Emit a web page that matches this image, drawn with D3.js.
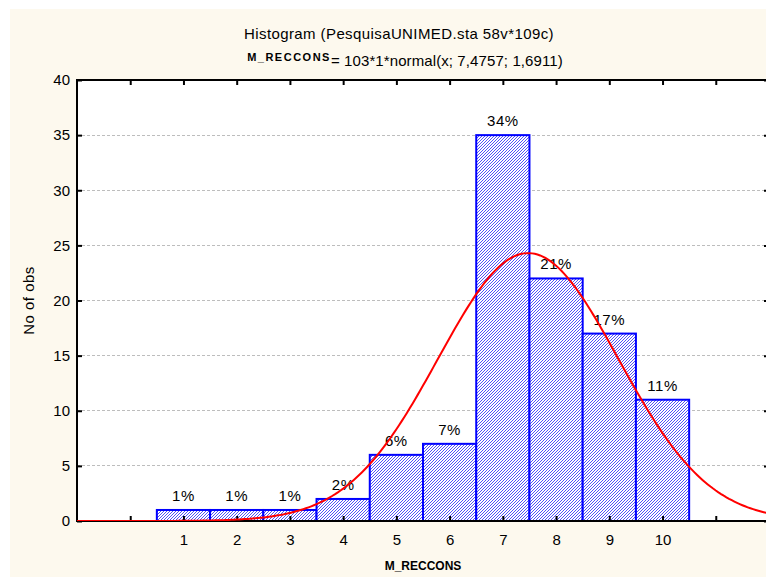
<!DOCTYPE html>
<html>
<head>
<meta charset="utf-8">
<script src="https://cdn.jsdelivr.net/npm/d3@7"></script>
<style>
  html, body { margin: 0; padding: 0; background: #ffffff; }
  svg { display: block; font-family: "Liberation Sans", Arial, sans-serif; }
</style>
</head>
<body>
<svg id="chart" width="766" height="577"></svg>
<script>
// Histogram of M_RECCONS with fitted normal curve
const categories = [1, 2, 3, 4, 5, 6, 7, 8, 9, 10];
const counts = [1, 1, 1, 2, 6, 7, 35, 22, 17, 11];
const yTicks = [0, 5, 10, 15, 20, 25, 30, 35, 40];
const xTicks = [0, 1, 2, 3, 4, 5, 6, 7, 8, 9, 10, 11];
const xTickLabels = ["", "1", "2", "3", "4", "5", "6", "7", "8", "9", "10", ""];
// Parameters of the fitted curve: N * binWidth * normal(x; mean; sd)
const fitN = 103, fitBin = 1, fitMean = 7.4757, fitSd = 1.6911;

const svg = d3.select("#chart");
const W = 766, H = 577;
const plot = { left: 77, right: 769, top: 80, bottom: 521 };

// Panel background
svg.append("rect").attr("x", 10).attr("y", 9).attr("width", W - 10).attr("height", H - 9)
  .attr("fill", "#fdf9ee");

const x = d3.scaleLinear().domain([-1, 12]).range([plot.left, plot.right]);
const y = d3.scaleLinear().domain([0, 40]).range([plot.bottom, plot.top]);

// Hatch fill for bars
const defs = svg.append("defs");
const pat = defs.append("pattern").attr("id", "hatch")
  .attr("patternUnits", "userSpaceOnUse").attr("width", 3).attr("height", 3);
pat.append("rect").attr("width", 3).attr("height", 3).attr("fill", "#ffffff");
[[0, 2], [1, 1], [2, 0]].forEach(([px, py]) => {
  pat.append("rect").attr("x", px).attr("y", py).attr("width", 1).attr("height", 1)
    .attr("fill", "#5252f8").attr("shape-rendering", "crispEdges");
});
defs.append("clipPath").attr("id", "plotClip").append("rect")
  .attr("x", plot.left).attr("y", plot.top)
  .attr("width", plot.right - plot.left).attr("height", plot.bottom - plot.top);

// Plot area
svg.append("rect").attr("x", plot.left).attr("y", plot.top)
  .attr("width", plot.right - plot.left).attr("height", plot.bottom - plot.top)
  .attr("fill", "#ffffff");

// Grid lines
svg.append("g").selectAll("line").data(yTicks.filter(v => v > 0 && v < 40)).join("line")
  .attr("x1", plot.left).attr("x2", plot.right)
  .attr("y1", d => y(d)).attr("y2", d => y(d))
  .attr("stroke", "#bdbdbd").attr("stroke-width", 1).attr("stroke-dasharray", "3,2")
  .attr("shape-rendering", "crispEdges");

// Bars
const total = d3.sum(counts);
const barData = categories.map((c, i) => ({ c, n: counts[i] }));
svg.append("g").selectAll("rect").data(barData).join("rect")
  .attr("x", d => x(d.c - 0.5))
  .attr("y", d => y(d.n))
  .attr("width", d => x(d.c + 0.5) - x(d.c - 0.5))
  .attr("height", d => y(0) - y(d.n))
  .attr("fill", "url(#hatch)")
  .attr("stroke", "#0000ff").attr("stroke-width", 2);

// Percentage labels
svg.append("g").selectAll("text").data(barData).join("text")
  .attr("x", d => x(d.c))
  .attr("y", d => y(d.n) - 9)
  .attr("text-anchor", "middle")
  .attr("font-size", 15).attr("letter-spacing", 0.5).attr("fill", "#000")
  .text(d => Math.round(d.n / total * 100) + "%");

// Axes: ticks point inward on all four sides
const axisG = svg.append("g");
axisG.append("g").attr("transform", `translate(0,${plot.bottom})`)
  .call(d3.axisBottom(x).tickValues(xTicks).tickSize(-5).tickFormat((d, i) => xTickLabels[i]).tickPadding(13))
  .call(g => g.select(".domain").remove());
axisG.append("g").attr("transform", `translate(0,${plot.top})`)
  .call(d3.axisTop(x).tickValues(xTicks).tickSize(-5).tickFormat(""))
  .call(g => g.select(".domain").remove());
axisG.append("g").attr("transform", `translate(${plot.left},0)`)
  .call(d3.axisLeft(y).tickValues(yTicks).tickSize(-5).tickPadding(7))
  .call(g => g.select(".domain").remove());
axisG.append("g").attr("transform", `translate(${plot.right},0)`)
  .call(d3.axisRight(y).tickValues(yTicks).tickSize(-5).tickFormat(""))
  .call(g => g.select(".domain").remove());
axisG.selectAll(".tick line").attr("stroke", "#000").attr("stroke-width", 2);
axisG.selectAll(".tick text").attr("font-size", 15).attr("fill", "#000")
  .attr("font-family", "Liberation Sans, Arial, sans-serif");

// Frame
svg.append("rect").attr("x", plot.left).attr("y", plot.top)
  .attr("width", plot.right - plot.left).attr("height", plot.bottom - plot.top)
  .attr("fill", "none").attr("stroke", "#000").attr("stroke-width", 2);

// Fitted normal curve, drawn over bars and baseline
const pdf = v => fitN * fitBin * Math.exp(-0.5 * ((v - fitMean) / fitSd) ** 2) / (fitSd * Math.sqrt(2 * Math.PI));
const curveX = d3.range(-1, 12.001, 0.05);
svg.append("path")
  .attr("clip-path", "url(#plotClip)")
  .attr("d", d3.line().x(v => x(v)).y(v => y(pdf(v)))(curveX))
  .attr("fill", "none").attr("stroke", "#ff0000").attr("stroke-width", 2);

// Titles
svg.append("text").attr("x", 399).attr("y", 39).attr("text-anchor", "middle")
  .attr("font-size", 15).attr("letter-spacing", 0.4).text("Histogram (PesquisaUNIMED.sta 58v*109c)");
const sub = svg.append("text").attr("x", 405).attr("y", 66).attr("text-anchor", "middle").attr("font-size", 15);
sub.append("tspan").attr("font-size", 11).attr("font-weight", "bold").attr("letter-spacing", 1.5)
  .attr("dy", -5).text("M_RECCONS");
sub.append("tspan").attr("dy", 5).attr("letter-spacing", 0.1).text("= 103*1*normal(x; 7,4757; 1,6911)");

// Axis titles
svg.append("text").attr("x", (plot.left + plot.right) / 2).attr("y", 570)
  .attr("text-anchor", "middle").attr("font-size", 12).attr("font-weight", "bold").text("M_RECCONS");
svg.append("text").attr("transform", `translate(34,${(plot.top + plot.bottom) / 2}) rotate(-90)`)
  .attr("text-anchor", "middle").attr("font-size", 15).attr("letter-spacing", 0.5).text("No of obs");
</script>
</body>
</html>
